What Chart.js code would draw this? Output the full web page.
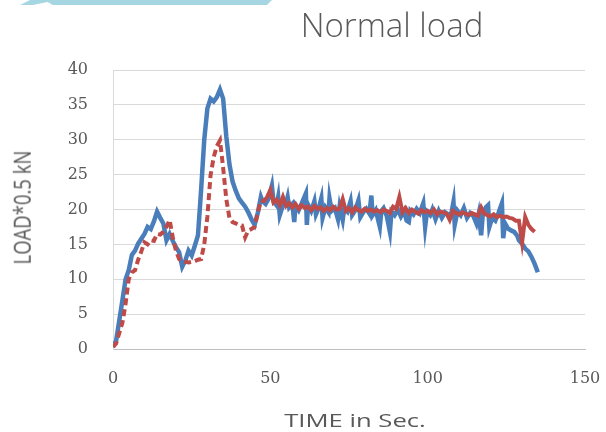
<!DOCTYPE html>
<html>
<head>
<meta charset="utf-8">
<script src="https://cdn.jsdelivr.net/npm/chart.js@4.4.0/dist/chart.umd.min.js"></script>
<style>
  body { margin: 0; background: #fff; }
  #wrap { position: relative; width: 606px; height: 432px; }
  #band { position: absolute; left: 20px; top: 0; width: 252px; height: 5px; background: #a6d6e2;
          clip-path: polygon(4% 0, 100% 0, 98% 100%, 13% 100%, 11% 40%, 5% 100%, 0 100%); }
  .txt { position: absolute; font-family: "Open Sans", sans-serif; color: #595959; white-space: nowrap; text-align: center; }
  #title { left: 292px; top: 2px; width: 200px; font-size: 33px; font-weight: 300; }
  #xtitle { left: 255px; top: 407px; width: 200px; font-size: 19px; transform: scaleX(1.35); }
  #ytitle { left: -79px; top: 195px; width: 200px; font-size: 18.5px; transform: rotate(-90deg) scaleY(1.3); }
</style>
</head>
<body>
<div id="wrap">
  <div id="band"></div>
  <div id="title" class="txt">Normal load</div>
  <div id="xtitle" class="txt">TIME in Sec.</div>
  <div id="ytitle" class="txt">LOAD*0.5 kN</div>
  <canvas id="myChart" width="606" height="432"></canvas>
</div>
<script>
// blue run: time (s) and load
var blueTime = [
  0, 1, 2, 3, 4, 5, 6, 7, 8, 9,
  10, 11, 12, 13, 14, 15, 16, 17, 18, 19,
  20, 21, 22, 23, 24, 25, 26, 27, 28, 29,
  30, 31, 32, 33, 34, 35, 36, 37, 38, 39,
  40, 41, 42, 43, 44, 45, 46, 47, 47.5, 48.5,
  49.5, 50.5, 51, 52, 52.5, 53, 54, 55, 55.5, 56,
  57, 57.6, 58, 59, 60, 61.3, 61.6, 62, 63, 64,
  64.5, 65.5, 66.2, 66.6, 67.5, 68.5, 68.8, 69.5, 70.5, 71.5,
  72, 73, 73.5, 74.5, 75.5, 76, 77, 78, 78.6, 79.5,
  80.5, 81.5, 82.1, 82.5, 83.5, 84.8, 85.3, 86, 87, 88,
  88.5, 89.5, 90.5, 91.5, 92.5, 93.3, 94, 94.5, 95.5, 96.5,
  97.5, 98.6, 99.2, 99.8, 100.8, 101.5, 102.5, 103.5, 104.5, 105.5,
  106.5, 107.5, 108.2, 108.6, 109.5, 110.5, 111.5, 112.5, 113.5, 114.5,
  115.5, 116.2, 117, 117.5, 118.5, 119.2, 119.6, 120.5, 121.5, 122.5,
  123.6, 124, 124.6, 125.5, 126.5, 127.5, 128.5, 129, 130, 131,
  132, 133, 134, 135
];
var blueLoad = [
  0.3, 1.2, 4.1, 7, 10, 11.3, 13.5, 14.1, 15.1, 15.8,
  16.5, 17.5, 17.2, 18.3, 19.7, 18.8, 18, 15.6, 16.5, 15.5,
  14.6, 13.9, 11.8, 12.7, 14.1, 13.4, 14.8, 16.3, 22.8, 30,
  34.5, 35.9, 35.5, 36.1, 37.2, 35.9, 30.5, 26.5, 24, 22.7,
  21.6, 21, 20.4, 19.6, 18.6, 17.8, 19.5, 21.8, 21.2, 20.8,
  21.6, 23.4, 21.2, 20.6, 21.8, 19.2, 20.6, 20.9, 21.8, 20.3,
  20.8, 18.2, 20.6, 19.9, 20.9, 22.3, 17.8, 20.7, 19.8, 21.2,
  19.3, 20.4, 21.6, 18.8, 20.3, 19.6, 21.6, 19.8, 20.2, 18.6,
  20.4, 18.5, 20.2, 19.7, 21.2, 19.2, 19.9, 21.3, 18.9, 19.6,
  20.1, 19.4, 22, 19.2, 19.9, 17.5, 19.8, 20.2, 19.1, 16.8,
  19.7, 19.2, 20, 19, 19.8, 18.4, 18.2, 19.8, 19.3, 20.1,
  19.5, 20.9, 17.5, 19.7, 19.2, 20, 18.6, 19.8, 18.8, 19.6,
  19.3, 19.4, 21.1, 17.8, 19.8, 19.2, 20.2, 18.8, 19.5, 19.1,
  18, 19.4, 16.3, 19.2, 20.3, 20.6, 17.5, 18.8, 18.4, 19.5,
  20.9, 15.9, 18, 17.3, 17, 16.8, 16.2, 15.6, 15.1, 14.4,
  14, 13.2, 12.2, 11
];

// red run: one sample per second
var redTime = [];
for (var j = 0; j <= 134; j++) redTime.push(j);
var redLoad = [
  0.3, 0.8, 2.3, 3.8, 6.5, 10, 11, 11.3, 12.8, 14,
  15.3, 15, 15.6, 15.5, 16.5, 16.4, 16.8, 17.5, 18.5, 16,
  14.1, 12.9, 12.6, 12.5, 12.4, 12.5, 12.6, 12.8, 12.9, 15,
  19, 24.9, 27.5, 29.1, 29.9, 26, 21.5, 18.8, 18.2, 18,
  17.8, 17.7, 16, 17, 17.2, 17.5, 19.5, 21.3, 21.2, 21.8,
  22.8, 21, 21.4, 20.6, 21.8, 20.5, 20.9, 20.3, 20.8, 20.1,
  20.6, 20.2, 20.4, 19.9, 20.5, 20.1, 20.3, 19.8, 20.2, 19.9,
  20.4, 20, 20.1, 21.5, 19.8, 20.2, 19.6, 20.3, 19.9, 19.7,
  20.1, 19.8, 20, 19.7, 19.9, 19.6, 20, 19.8, 19.5, 20.4,
  20.1, 21.8, 19.6, 20.2, 19.5, 20, 19.7, 19.4, 19.9, 19.6,
  19.8, 19.5, 20, 19.3, 19.7, 19.6, 19.4, 18.5, 19.8, 19.5,
  19.3, 19.6, 19.4, 19.2, 19.5, 19.3, 19.1, 20.3, 19.4, 19.2,
  19, 19.3, 18.9, 19.1, 18.9, 19, 18.8, 18.7, 18.4, 18.4,
  15.3, 18.9, 17.8, 17.2, 16.8
];
var xTicks = [0, 50, 100, 150];
var yTicks = [0, 5, 10, 15, 20, 25, 30, 35, 40];

function toPoints(xs, ys) {
  return xs.map(function (x, k) { return { x: x, y: ys[k] }; });
}

var ctx = document.getElementById('myChart').getContext('2d');
var myChart = new Chart(ctx, {
  type: 'line',
  data: {
    datasets: [{
      label: 'Blue',
      data: toPoints(blueTime, blueLoad),
      borderColor: '#4a7ebb',
      borderWidth: 4.5,
      pointRadius: 0,
      tension: 0,
      order: 1
    }, {
      label: 'Red',
      data: toPoints(redTime, redLoad),
      borderColor: '#be4b48',
      borderWidth: 4,
      pointRadius: 0,
      tension: 0,
      order: 0,
      segment: {
        borderDash: function (c) { return c.p0.parsed.x < 47 ? [7, 4] : undefined; }
      }
    }]
  },
  options: {
    responsive: false,
    animation: false,
    layout: { padding: { top: 70, right: 21, bottom: 0, left: 0 } },
    plugins: {
      legend: { display: false },
      tooltip: { enabled: false }
    },
    scales: {
      x: {
        type: 'linear',
        min: 0,
        max: 150,
        afterBuildTicks: function (s) { s.ticks = xTicks.map(function (v) { return { value: v }; }); },
        afterFit: function (s) { s.height = 83; },
        grid: { display: true, color: 'rgba(0,0,0,0)', drawTicks: true, tickLength: 17 },
        border: { color: '#bfbfbf', width: 1 },
        ticks: { color: '#595959', padding: 3, maxRotation: 0, font: { family: 'DejaVu Serif', size: 16 } }
      },
      y: {
        min: 0,
        max: 40,
        afterBuildTicks: function (s) { s.ticks = yTicks.map(function (v) { return { value: v }; }); },
        afterFit: function (s) { s.width = 113; },
        grid: { color: '#d9d9d9', drawTicks: false },
        border: { color: '#d9d9d9', width: 1 },
        ticks: { color: '#595959', padding: 25, font: { family: 'DejaVu Serif', size: 16 } }
      }
    }
  }
});
</script>
</body>
</html>
